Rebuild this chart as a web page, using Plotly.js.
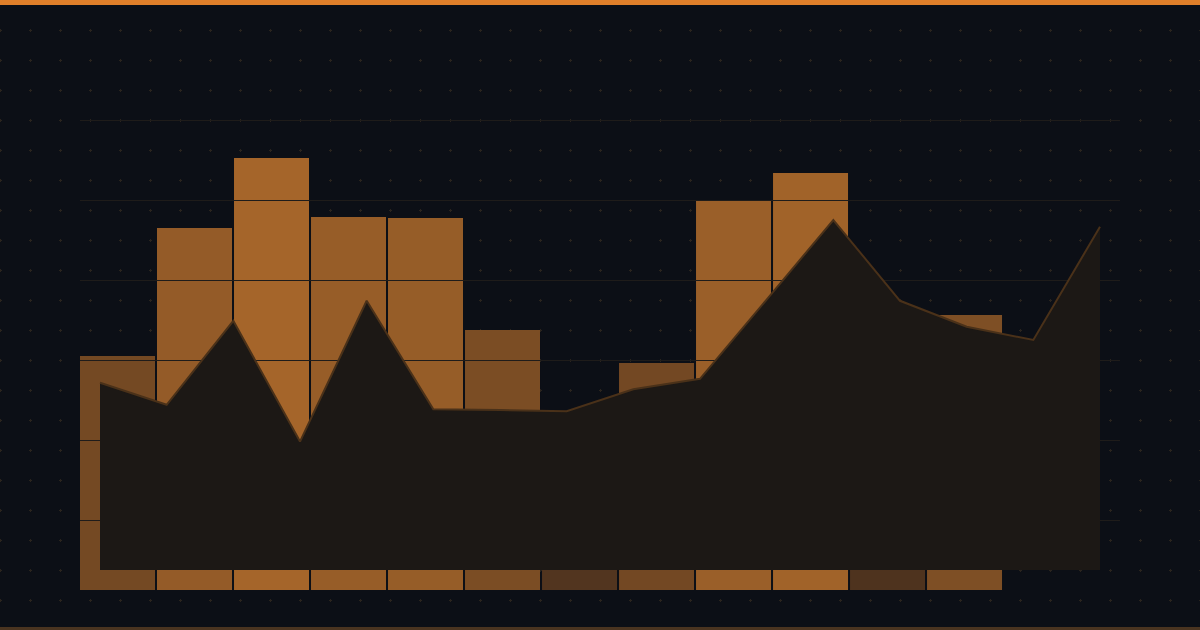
<!DOCTYPE html>
<html>
<head>
<meta charset="utf-8">
<script src="https://cdn.plot.ly/plotly-3.0.1.min.js"></script>
<style>
  html, body { margin: 0; padding: 0; background: #0c0f16; }
  #wrap {
    position: relative; width: 1200px; height: 630px; overflow: hidden;
    background-color: #0c0f16;
    background-image: url("data:image/svg+xml;utf8,<svg xmlns='http://www.w3.org/2000/svg' width='30' height='30'><rect x='14' y='15' width='3' height='1' fill='%232a241e'/><rect x='15' y='14' width='1' height='3' fill='%232a241e'/></svg>");
    background-position: -15px -15px;
  }
  #topbar { position: absolute; left: 0; top: 0; width: 1200px; height: 5px; background: #e07f2a; z-index: 2; }
  #botbar { position: absolute; left: 0; top: 627px; width: 1200px; height: 3px; background: #4a3420; z-index: 2; }
  #chart { position: absolute; left: 0; top: 0; width: 1200px; height: 630px; }
</style>
</head>
<body>
<div id="wrap">
  <div id="topbar"></div>
  <div id="chart"></div>
  <div id="botbar"></div>
</div>
<script>
// bar series (12 periods)
const barCats = ['Jan', 'Feb', 'Mar', 'Apr', 'May', 'Jun', 'Jul', 'Aug', 'Sep', 'Oct', 'Nov', 'Dec'];
const barValues = [58.5, 90.5, 108, 93.25, 93, 65, 23.5, 56.75, 97.25, 104.25, 19.5, 68.75];

// area series (16 points)
const areaX = [1, 2, 3, 4, 5, 6, 7, 8, 9, 10, 11, 12, 13, 14, 15, 16];
const areaValues = [46.8, 41.3, 62.3, 32.1, 67.3, 40.2, 40.0, 39.7, 45.2, 47.8, 67.6, 87.5, 67.3, 60.8, 57.5, 85.8];

// bars, shaded by value
const bars = {
  x: barCats,
  y: barValues,
  type: 'bar',
  xaxis: 'x',
  yaxis: 'y',
  marker: {
    color: barValues,
    colorscale: [[0, '#4e331e'], [1, '#a5652a']],
    cmin: Math.min(...barValues),
    cmax: Math.max(...barValues),
    line: { width: 0 }
  },
  hoverinfo: 'skip'
};

// area on its own subplot so its grid sits over the bars
const area = {
  x: areaX,
  y: areaValues,
  type: 'scatter',
  mode: 'lines',
  xaxis: 'x2',
  yaxis: 'y2',
  fill: 'tozeroy',
  fillcolor: '#1c1815',
  line: { color: '#4a3119', width: 2 },
  hoverinfo: 'skip'
};

const layout = {
  width: 1200,
  height: 630,
  margin: { l: 80, r: 80, t: 116, b: 40 },
  paper_bgcolor: 'rgba(0,0,0,0)',
  plot_bgcolor: 'rgba(0,0,0,0)',
  showlegend: false,
  bargap: 0.026,
  xaxis: {
    type: 'category', range: [-0.487, 13.019], domain: [0, 1],
    showgrid: false, zeroline: false, showticklabels: false, ticks: ''
  },
  yaxis: {
    range: [0, 118.5], domain: [0, 1],
    showgrid: false, zeroline: false, showticklabels: false, ticks: ''
  },
  xaxis2: {
    anchor: 'y2', range: [0.7, 16.3], domain: [0, 1],
    showgrid: false, zeroline: false, showticklabels: false, ticks: ''
  },
  yaxis2: {
    anchor: 'x2', range: [-5, 113.5], domain: [0, 1],
    tickmode: 'linear', tick0: 12.5, dtick: 20,
    showgrid: true, gridcolor: '#1f1c1a', gridwidth: 1,
    zeroline: false, showticklabels: false, ticks: ''
  }
};

Plotly.newPlot('chart', [bars, area], layout, { staticPlot: true });
</script>
</body>
</html>
